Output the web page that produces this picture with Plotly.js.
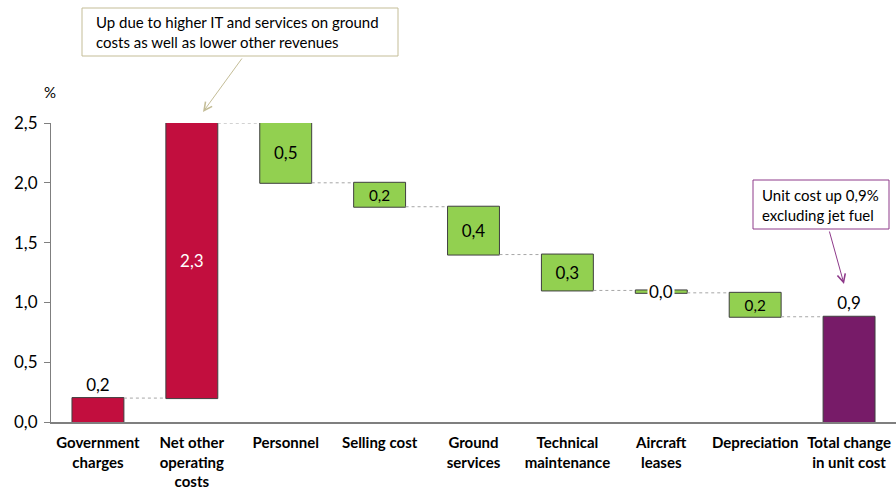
<!DOCTYPE html>
<html>
<head>
<meta charset="utf-8">
<script src="https://cdn.plot.ly/plotly-3.0.1.min.js"></script>
<style>
  html, body { margin: 0; padding: 0; background: #ffffff; }
  #chart { width: 896px; height: 489px; }
</style>
</head>
<body>
<div id="chart"></div>
<script>
// Unit cost bridge, change in percent
const categories = [
  'Government<br>charges',
  'Net other<br>operating<br>costs',
  'Personnel',
  'Selling cost',
  'Ground<br>services',
  'Technical<br>maintenance',
  'Aircraft<br>leases',
  'Depreciation',
  'Total change<br>in unit cost'
];
const changes = [0.2, 2.3, -0.5, -0.2, -0.4, -0.3, -0.02, -0.2];
const measures = ['relative', 'relative', 'relative', 'relative', 'relative', 'relative', 'relative', 'relative', 'total'];
const yTicks = [0, 0.5, 1.0, 1.5, 2.0, 2.5];
const noteOther = 'Up due to higher IT and services on ground<br>costs as well as lower other revenues';
const noteTotal = 'Unit cost up 0,9%<br>excluding jet fuel';

const FONT = 'Lato, "Open Sans", "Liberation Sans", sans-serif';
const RED = '#C20E3E', GREEN = '#92D050', PURPLE = '#771B68', OUTLINE = '#3F3F3F';
const KHAKI = '#C4BD97', PLUM = '#8E3A8A';

// plot area in page pixels, used to place the callouts
const PL = 51, PW = 845, PB = 422, PH = 299;
const px = v => (v - PL) / PW;
const py = v => (PB - v) / PH;

// running levels and the closing total
const ends = [];
let level = 0;
changes.forEach(v => { level += v; ends.push(level); });
const total = level;
const values = changes.concat([total]);

const fmt = v => Math.abs(v).toFixed(1).replace('.', ',');
const thinIdx = 6; // aircraft leases: label sits over the bar
const labels = values.map((v, i) => i === thinIdx ? '' : fmt(v));
const positions = values.map((v, i) => (i === 0 || i === values.length - 1) ? 'outside' : 'inside');
const insideColors = values.map((v, i) => i === 1 ? '#ffffff' : '#000000');

const trace = {
  type: 'waterfall',
  x: categories,
  y: values.map((v, i) => measures[i] === 'total' ? 0 : v),
  measure: measures,
  text: labels,
  textposition: positions,
  insidetextanchor: 'middle',
  insidetextfont: { family: FONT, size: 17, color: insideColors },
  outsidetextfont: { family: FONT, size: 17, color: '#000000' },
  textfont: { family: FONT, size: 17 },
  cliponaxis: false,
  increasing: { marker: { color: RED, line: { color: OUTLINE, width: 1 } } },
  decreasing: { marker: { color: GREEN, line: { color: OUTLINE, width: 1 } } },
  totals: { marker: { color: PURPLE, line: { color: OUTLINE, width: 1 } } },
  connector: { mode: 'between', line: { color: '#A6A6A6', width: 1, dash: 'dot' } },
  hoverinfo: 'skip'
};

const thinMid = ends[thinIdx] - changes[thinIdx] / 2;

const layout = {
  width: 896,
  height: 489,
  margin: { l: PL, r: 896 - PL - PW, t: PB - PH, b: 489 - PB },
  paper_bgcolor: '#ffffff',
  plot_bgcolor: '#ffffff',
  separators: ',.',
  showlegend: false,
  waterfallgap: 0.447,
  font: { family: FONT, color: '#000000' },
  xaxis: {
    type: 'category',
    range: [-0.5, categories.length - 0.5],
    showgrid: false,
    zeroline: false,
    showline: true,
    linecolor: '#7F7F7F',
    linewidth: 2,
    ticks: '',
    ticklabelstandoff: 6,
    tickfont: { family: FONT, size: 15, color: '#000000', weight: 'bold' },
    fixedrange: true
  },
  yaxis: {
    range: [0, 2.5],
    tickvals: yTicks,
    tickformat: '.1f',
    showgrid: false,
    zeroline: false,
    showline: true,
    linecolor: '#7F7F7F',
    linewidth: 1,
    ticks: 'outside',
    ticklen: 6,
    tickcolor: '#7F7F7F',
    ticklabelstandoff: 3,
    tickfont: { family: FONT, size: 17, color: '#000000' },
    fixedrange: true
  },
  shapes: [
    {
      type: 'rect', xref: 'paper', yref: 'paper',
      x0: px(82), x1: px(398), y0: py(56), y1: py(8),
      line: { color: KHAKI, width: 1 }, fillcolor: '#ffffff', layer: 'above'
    },
    {
      type: 'rect', xref: 'paper', yref: 'paper',
      x0: px(753), x1: px(889), y0: py(229), y1: py(180),
      line: { color: PLUM, width: 1 }, fillcolor: '#ffffff', layer: 'above'
    }
  ],
  annotations: [
    {
      xref: 'paper', yref: 'paper', x: px(50), y: py(92),
      xanchor: 'center', yanchor: 'middle',
      text: '%', showarrow: false,
      font: { family: FONT, size: 15, color: '#000000' }
    },
    {
      xref: 'paper', yref: 'paper', x: px(95), y: py(32),
      xanchor: 'left', yanchor: 'middle',
      text: noteOther, showarrow: false, align: 'left', borderpad: 0,
      font: { family: FONT, size: 15, color: '#000000' }
    },
    {
      xref: 'paper', yref: 'paper', x: px(203), y: py(112),
      axref: 'pixel', ayref: 'pixel', ax: 40, ay: -55,
      text: '', showarrow: true, arrowhead: 5, arrowsize: 1.6, arrowwidth: 1,
      arrowcolor: KHAKI, standoff: 0
    },
    {
      xref: 'paper', yref: 'paper', x: px(761), y: py(204.5),
      xanchor: 'left', yanchor: 'middle',
      text: noteTotal, showarrow: false, align: 'left', borderpad: 0,
      font: { family: FONT, size: 15, color: '#000000' }
    },
    {
      xref: 'paper', yref: 'paper', x: px(844), y: py(284),
      axref: 'pixel', ayref: 'pixel', ax: -15, ay: -54,
      text: '', showarrow: true, arrowhead: 5, arrowsize: 1.6, arrowwidth: 1,
      arrowcolor: PLUM, standoff: 0
    },
    {
      xref: 'x', yref: 'y', x: thinIdx, y: thinMid,
      xanchor: 'center', yanchor: 'middle',
      text: fmt(changes[thinIdx]), showarrow: false,
      font: { family: FONT, size: 17, color: '#000000' },
      bgcolor: '#ffffff', borderpad: 1
    }
  ]
};

Plotly.newPlot('chart', [trace], layout, { staticPlot: true, displayModeBar: false });
</script>
</body>
</html>
